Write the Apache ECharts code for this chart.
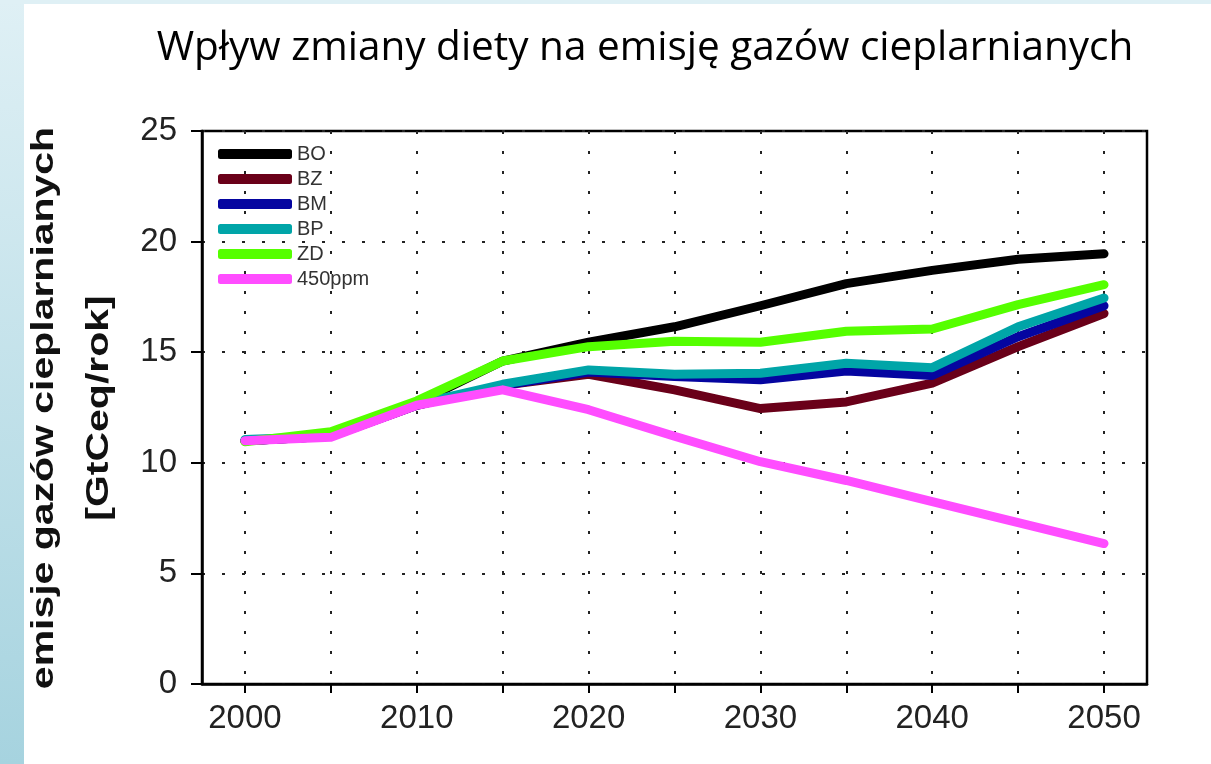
<!DOCTYPE html>
<html>
<head>
<meta charset="utf-8">
<title>Wpływ zmiany diety na emisję gazów cieplarnianych</title>
<script src="https://cdn.jsdelivr.net/npm/echarts@6/dist/echarts.min.js"></script>
<style>
  html, body { margin: 0; padding: 0; background: #fff; }
  #bgLeft { position: absolute; left: 0; top: 0; width: 24px; height: 764px;
    background: linear-gradient(to bottom, #dff0f5, #a6d3df); }
  #bgTop { position: absolute; left: 0; top: 0; width: 1211px; height: 4px; background: #dff0f5; }
  #chart { position: absolute; left: 0; top: 0; width: 1211px; height: 764px; }
</style>
</head>
<body>
<div id="bgLeft"></div>
<div id="bgTop"></div>
<div id="chart"></div>
<script>
const years = ["2000", "2005", "2010", "2015", "2020", "2025", "2030", "2035", "2040", "2045", "2050"];
const yTicks = [0, 5, 10, 15, 20, 25];

const BO = [11.0, 11.2, 12.7, 14.6, 15.45, 16.15, 17.1, 18.1, 18.7, 19.2, 19.45];
const BZ = [11.0, 11.2, 12.6, 13.5, 14.0, 13.3, 12.45, 12.75, 13.6, 15.25, 16.75];
const BM = [11.0, 11.2, 12.6, 13.5, 14.1, 13.9, 13.75, 14.15, 13.95, 15.7, 17.1];
const BP = [11.05, 11.2, 12.65, 13.55, 14.2, 14.0, 14.05, 14.5, 14.3, 16.15, 17.45];
const ZD = [10.95, 11.4, 12.8, 14.6, 15.25, 15.5, 15.45, 15.95, 16.05, 17.15, 18.05];
const PPM450 = [11.0, 11.15, 12.6, 13.3, 12.4, 11.2, 10.05, 9.2, 8.25, 7.3, 6.35];

const seriesDefs = [
  { name: "BO", data: BO, color: "#000000" },
  { name: "BZ", data: BZ, color: "#6a0019" },
  { name: "BM", data: BM, color: "#0505a0" },
  { name: "BP", data: BP, color: "#00a5a8" },
  { name: "ZD", data: ZD, color: "#55ff00" },
  { name: "450ppm", data: PPM450, color: "#ff4dff" },
];

const dotted = { color: "#222", width: 2, type: [3, 17] };

const chart = echarts.init(document.getElementById("chart"));

chart.setOption({
  animation: false,
  backgroundColor: "transparent",
  title: {
    text: "Wpływ zmiany diety na emisję gazów cieplarnianych",
    left: 640,
    textAlign: "center",
    top: 23,
    textStyle: { fontFamily: "Open Sans", fontWeight: "normal", fontSize: 40.5, color: "#000" },
  },
  legend: {
    orient: "vertical",
    left: 218,
    top: 144,
    padding: 0,
    icon: "roundRect",
    itemWidth: 74,
    itemHeight: 10,
    itemGap: 5,
    textStyle: { fontFamily: "Liberation Sans", fontSize: 20, color: "#333", lineHeight: 20 },
    data: seriesDefs.map(s => s.name),
  },
  grid: {
    left: 202, right: 64, top: 131, bottom: 80,
    show: true, borderColor: "#000", borderWidth: 2.5, backgroundColor: "transparent",
  },
  graphic: [{
    type: "text",
    x: 72,
    y: 408,
    rotation: Math.PI / 2,
    scaleX: 1.28,
    style: {
      text: "emisje gazów cieplarnianych\n[GtCeq/rok]",
      fontFamily: "Liberation Sans",
      fontWeight: "bold",
      fontSize: 32,
      lineHeight: 55,
      fill: "#111",
      align: "center",
      verticalAlign: "middle",
    },
  }],
  xAxis: {
    type: "category",
    data: years,
    boundaryGap: true,
    axisLine: { lineStyle: { color: "#000", width: 2.5 } },
    axisTick: { show: true, alignWithLabel: true, interval: 0, length: 9, lineStyle: { color: "#000", width: 2 } },
    axisLabel: { interval: 1, margin: 18, fontFamily: "Liberation Sans", fontSize: 33, color: "#222" },
    splitLine: { show: true, interval: 0, alignWithLabel: true, lineStyle: dotted },
  },
  yAxis: {
    type: "value",
    min: yTicks[0],
    max: yTicks[yTicks.length - 1],
    interval: 5,
    axisLine: { show: true, lineStyle: { color: "#000", width: 2.5 } },
    axisTick: { show: true, length: 11, lineStyle: { color: "#000", width: 2 } },
    axisLabel: { margin: 25, fontFamily: "Liberation Sans", fontSize: 33, color: "#222" },
    splitLine: { show: true, lineStyle: dotted },
  },
  series: seriesDefs.map(s => ({
    name: s.name,
    type: "line",
    data: s.data,
    symbol: "none",
    color: s.color,
    lineStyle: { color: s.color, width: 9, cap: "round", join: "round" },
    emphasis: { disabled: true },
  })),
});
</script>
</body>
</html>
